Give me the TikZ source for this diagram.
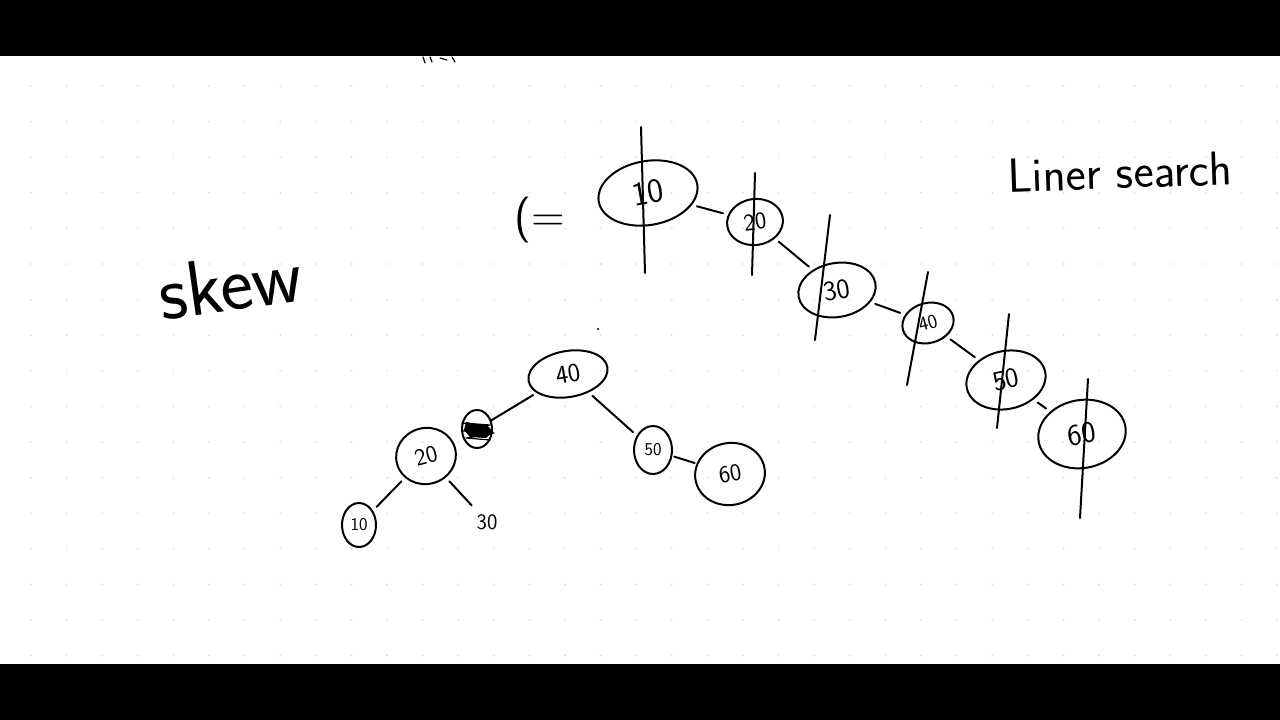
\documentclass[tikz,border=0pt]{standalone}
\usetikzlibrary{shapes.geometric}
\begin{document}
\begin{tikzpicture}[x=1pt,y=-1pt,
  ink/.style={line width=2pt, line cap=round, line join=round},
  bubble/.style={ellipse, draw, ink, inner sep=0pt, font=\sffamily},
  link/.style={ink, shorten <=5pt, shorten >=5pt},
  handtext/.style={inner sep=0pt, font=\sffamily}]
\useasboundingbox (0,0) rectangle (1280,720);
\fill[white] (0,0) rectangle (1280,720);
% faint dot grid
\foreach \i in {0,...,35} \foreach \j in {0,...,16}
  \fill[black!15] (31+35.6*\i, 86+35.6*\j) circle (0.9);
% black bars
\fill[black] (0,0) rectangle (1280,56);
\fill[black] (0,664) rectangle (1280,720);
% cut-off strokes under the top bar
\draw[ink, line width=1.2pt] (423,57) -- (425,63) (430,57) -- (432,62) (440,58) -- (447,60) (452,57) -- (455,62);

% words
\node[handtext, font=\sffamily\fontsize{78}{78}\selectfont, rotate=8] (skew) at (230,284) {skew};
\node[handtext, font=\sffamily\fontsize{48}{48}\selectfont, rotate=2] (liner) at (1120,172) {Liner search};
\node[handtext, font=\sffamily\fontsize{46}{46}\selectfont] (le) at (540,220) {(=};

% chain of nodes
\node[bubble, minimum width=100, minimum height=64, rotate=10, font=\sffamily\fontsize{34}{34}\selectfont] (c10) at (648,193) {10};
\node[bubble, minimum width=56, minimum height=46, rotate=8, font=\sffamily\fontsize{24}{24}\selectfont] (c20) at (755,222) {20};
\node[bubble, minimum width=78, minimum height=54, rotate=10, font=\sffamily\fontsize{28}{28}\selectfont] (c30) at (837,290) {30};
\node[bubble, minimum width=52, minimum height=40, rotate=15, font=\sffamily\fontsize{20}{20}\selectfont] (c40) at (928,323) {40};
\node[bubble, minimum width=80, minimum height=58, rotate=12, font=\sffamily\fontsize{28}{28}\selectfont] (c50) at (1006,380) {50};
\node[bubble, minimum width=88, minimum height=68, rotate=10, font=\sffamily\fontsize{30}{30}\selectfont] (c60) at (1082,434) {60};
\draw[link] (c10) -- (c20);
\draw[link] (c20) -- (c30);
\draw[link] (c30) -- (c40);
\draw[link] (c40) -- (c50);
\draw[link] (c50) -- (c60);
% strike-through lines
\coordinate (s10a) at (641,127); \coordinate (s10b) at (645,273);
\coordinate (s20a) at (755,173); \coordinate (s20b) at (752,275);
\coordinate (s30a) at (830,215); \coordinate (s30b) at (815,340);
\coordinate (s40a) at (928,272); \coordinate (s40b) at (907,385);
\coordinate (s50a) at (1009,314); \coordinate (s50b) at (997,428);
\coordinate (s60a) at (1088,379); \coordinate (s60b) at (1080,518);
\draw[ink] (s10a) -- (s10b);
\draw[ink] (s20a) -- (s20b);
\draw[ink] (s30a) -- (s30b);
\draw[ink] (s40a) -- (s40b);
\draw[ink] (s50a) -- (s50b);
\draw[ink] (s60a) -- (s60b);

% lower tree
\node[bubble, minimum width=80, minimum height=46, rotate=10, font=\sffamily\fontsize{26}{26}\selectfont] (t40) at (568,374) {40};
\fill (598,329) circle (1.1);
\node[bubble, minimum width=30, minimum height=38] (tx) at (477,429) {};
\fill (466,422) -- (488,426) -- (493,432) -- (486,438) -- (470,437) -- (464,430) -- cycle;
\draw[ink, line width=1.2pt] (462,423) -- (490,425) -- (463,431) -- (494,433) -- (466,438) -- (490,440);
\node[bubble, minimum width=60, minimum height=56, rotate=15, font=\sffamily\fontsize{24}{24}\selectfont] (t20) at (426,456) {20};
\node[bubble, minimum width=34, minimum height=44, font=\sffamily\fontsize{18}{18}\selectfont] (t10) at (359,525) {10};
\node[handtext, font=\sffamily\fontsize{22}{22}\selectfont] (t30) at (487,522) {30};
\node[bubble, minimum width=38, minimum height=48, font=\sffamily\fontsize{18}{18}\selectfont] (t50) at (653,450) {50};
\node[bubble, minimum width=70, minimum height=62, rotate=10, font=\sffamily\fontsize{24}{24}\selectfont] (t60) at (730,474) {60};
\draw[ink, shorten <=4pt] (t40) -- (tx);
\draw[link] (t40) -- (t50);
\draw[link] (t20) -- (t10);
\draw[link, shorten >=12pt] (t20) -- (t30);
\draw[link, shorten <=2pt, shorten >=2pt] (t50) -- (t60);
\end{tikzpicture}
\end{document}
